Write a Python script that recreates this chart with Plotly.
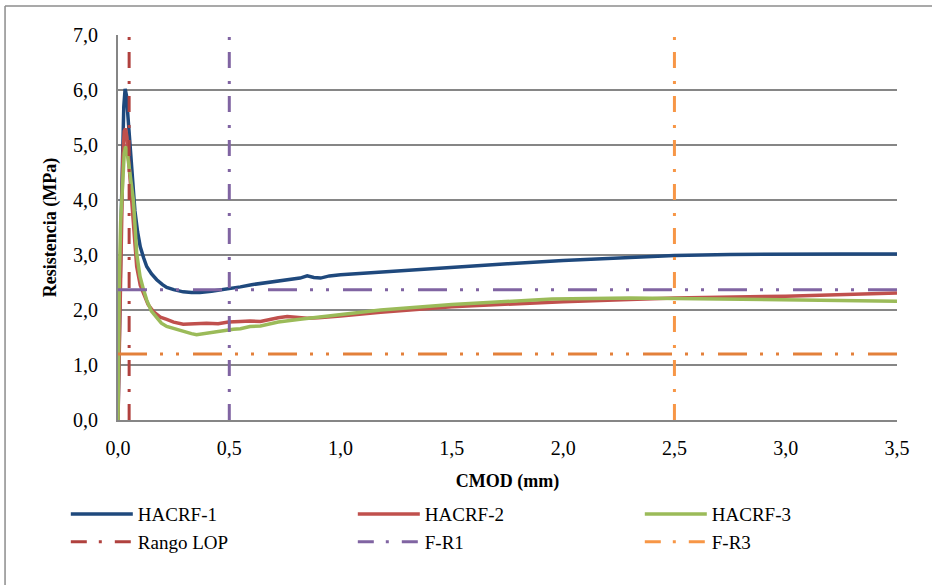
import plotly.graph_objects as go

# ---------------- data ----------------
h1_x = [0, 0.005, 0.01, 0.015, 0.02, 0.026, 0.032, 0.038, 0.045, 0.054, 0.065, 0.076, 0.088,
        0.1, 0.115, 0.129, 0.15, 0.174, 0.2, 0.219, 0.25, 0.293, 0.33, 0.368, 0.42, 0.496,
        0.55, 0.6, 0.668, 0.72, 0.78, 0.818, 0.85, 0.88, 0.91, 0.95, 1.0, 1.18, 1.5, 1.75,
        2.0, 2.25, 2.5, 2.75, 3.0, 3.25, 3.5]
h1_y = [0, 1.0, 2.5, 3.8, 4.9, 5.7, 6.02, 5.9, 5.5, 5.0, 4.3, 3.8, 3.42,
        3.15, 2.95, 2.79, 2.66, 2.55, 2.46, 2.41, 2.37, 2.33, 2.32, 2.32, 2.34, 2.38,
        2.42, 2.46, 2.50, 2.53, 2.56, 2.58, 2.62, 2.59, 2.58, 2.62, 2.64, 2.69, 2.78, 2.84,
        2.90, 2.95, 2.99, 3.01, 3.02, 3.02, 3.02]

h2_x = [0, 0.005, 0.01, 0.016, 0.022, 0.028, 0.034, 0.04, 0.048, 0.057, 0.069, 0.084, 0.1,
        0.114, 0.135, 0.159, 0.19, 0.219, 0.25, 0.293, 0.34, 0.398, 0.45, 0.496, 0.55, 0.593,
        0.64, 0.668, 0.72, 0.76, 0.8, 0.85, 0.9, 1.0, 1.18, 1.5, 2.0, 2.5, 3.0, 3.5]
h2_y = [0, 1.2, 2.6, 3.9, 4.8, 5.25, 5.3, 5.15, 4.7, 4.1, 3.52, 2.79, 2.45,
        2.30, 2.10, 1.97, 1.87, 1.83, 1.78, 1.74, 1.75, 1.76, 1.75, 1.78, 1.79, 1.80,
        1.79, 1.82, 1.86, 1.88, 1.86, 1.85, 1.86, 1.89, 1.96, 2.06, 2.15, 2.22, 2.25, 2.31]

h3_x = [0, 0.003, 0.006, 0.012, 0.02, 0.028, 0.034, 0.04, 0.05, 0.06, 0.069, 0.077, 0.084,
        0.092, 0.099, 0.114, 0.129, 0.15, 0.174, 0.195, 0.219, 0.25, 0.293, 0.33, 0.353, 0.4,
        0.443, 0.518, 0.55, 0.593, 0.64, 0.668, 0.72, 0.818, 0.9, 1.0, 1.18, 1.5, 1.95, 2.3,
        2.5, 3.0, 3.5]
h3_y = [0, 1.5, 2.6, 3.6, 4.4, 4.85, 4.97, 4.9, 4.6, 4.3, 4.0, 3.5, 3.03,
        2.8, 2.61, 2.38, 2.18, 1.98, 1.85, 1.76, 1.70, 1.66, 1.62, 1.57, 1.55, 1.58,
        1.61, 1.65, 1.66, 1.70, 1.71, 1.74, 1.78, 1.83, 1.87, 1.92, 2.00, 2.10, 2.20, 2.22,
        2.21, 2.19, 2.16]

x_range = [0, 3.5]
y_range = [0, 7]
lop_x = 0.05      # Rango LOP
fr1_x = 0.5       # F-R1 CMOD
fr3_x = 2.5       # F-R3 CMOD
fr1_y = 2.37      # F-R1 resistance
fr3_y = 1.2       # F-R3 resistance

x_ticks = [0, 0.5, 1.0, 1.5, 2.0, 2.5, 3.0, 3.5]
x_tick_labels = ["0,0", "0,5", "1,0", "1,5", "2,0", "2,5", "3,0", "3,5"]
y_ticks = [0, 1, 2, 3, 4, 5, 6, 7]
y_tick_labels = ["0,0", "1,0", "2,0", "3,0", "4,0", "5,0", "6,0", "7,0"]

# ---------------- styles ----------------
FONT = "Times New Roman, Liberation Serif, Tinos, DejaVu Serif, serif"
GRID = "#868686"
C1, C2, C3 = "#1F497D", "#C0504D", "#9BBB59"
C_LOP, C_FR1, C_FR3, C_FR3H = "#B0413E", "#8064A2", "#F79646", "#E3803A"
DASH_V = "16px,12px,3px,13px"
DASH_H = "29px,13px,3px,13px,3px,14px"

fig = go.Figure()
fig.add_trace(go.Scatter(x=h1_x, y=h1_y, mode="lines", name="HACRF-1",
                         line=dict(color=C1, width=3.5)))
fig.add_trace(go.Scatter(x=h2_x, y=h2_y, mode="lines", name="HACRF-2",
                         line=dict(color=C2, width=3.5)))
fig.add_trace(go.Scatter(x=h3_x, y=h3_y, mode="lines", name="HACRF-3",
                         line=dict(color=C3, width=3.5)))
fig.add_trace(go.Scatter(x=[lop_x, lop_x], y=y_range, mode="lines", name="Rango LOP",
                         line=dict(color=C_LOP, width=3, dash=DASH_V)))
fig.add_trace(go.Scatter(x=[fr1_x, fr1_x], y=y_range, mode="lines", name="F-R1",
                         line=dict(color=C_FR1, width=3, dash=DASH_V)))
fig.add_trace(go.Scatter(x=[fr3_x, fr3_x], y=y_range, mode="lines", name="F-R3",
                         line=dict(color=C_FR3, width=3, dash=DASH_V)))
fig.add_trace(go.Scatter(x=x_range, y=[fr1_y, fr1_y], mode="lines", showlegend=False,
                         line=dict(color=C_FR1, width=3, dash=DASH_H)))
fig.add_trace(go.Scatter(x=x_range, y=[fr3_y, fr3_y], mode="lines", showlegend=False,
                         line=dict(color=C_FR3H, width=3, dash=DASH_H)))

fig.update_layout(
    width=932, height=585,
    margin=dict(l=118, r=35, t=35, b=165),
    paper_bgcolor="white", plot_bgcolor="white",
    font=dict(family=FONT, size=18, color="black"),
    showlegend=True,
    legend=dict(orientation="h", x=-0.067, xanchor="left", y=-0.195, yanchor="top",
                entrywidth=210, entrywidthmode="pixels", itemwidth=62,
                font=dict(family=FONT, size=19, color="black"),
                traceorder="normal", tracegroupgap=0),
    xaxis=dict(range=x_range, tickvals=x_ticks, ticktext=x_tick_labels,
               tickfont=dict(family=FONT, size=20),
               showgrid=False, zeroline=False, showline=True, linecolor=GRID, linewidth=2,
               ticks="", ticklabelstandoff=9,
               title=dict(text="<b>CMOD (mm)</b>", font=dict(family=FONT, size=18), standoff=16)),
    yaxis=dict(range=y_range, tickvals=y_ticks, ticktext=y_tick_labels,
               tickfont=dict(family=FONT, size=20),
               showgrid=True, gridcolor=GRID, gridwidth=1.5, zeroline=False,
               showline=True, linecolor=GRID, linewidth=2,
               ticks="", ticklabelstandoff=14,
               title=dict(text="<b>Resistencia (MPa)</b>", font=dict(family=FONT, size=18), standoff=12)),
    shapes=[
        dict(type="line", xref="paper", yref="paper", x0=-0.145, x1=1.06, y0=1.0753, y1=1.0753,
             line=dict(color="#8C8C8C", width=1.5)),
        dict(type="line", xref="paper", yref="paper", x0=-0.145, x1=-0.145, y0=1.0753, y1=-0.45,
             line=dict(color="#8C8C8C", width=1.5)),
    ],
)

fig.write_html("out.html", config={"displayModeBar": False},
               post_script="document.body.style.margin='0';")
